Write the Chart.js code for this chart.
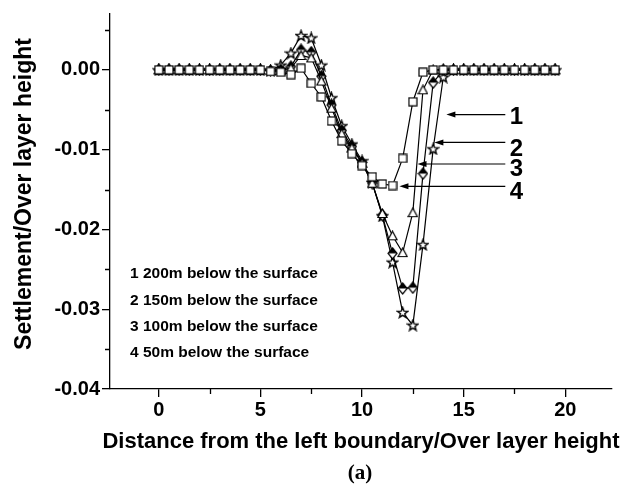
<!DOCTYPE html>
<html><head><meta charset="utf-8">
<script src="https://cdn.jsdelivr.net/npm/chart.js@4.4.0/dist/chart.umd.min.js"></script>
<style>html,body{margin:0;padding:0;background:#fff}</style>
</head><body>
<canvas id="c" width="632" height="494"></canvas>
<script>
// ---- data ----
const xValues = [0,0.5,1,1.5,2,2.5,3,3.5,4,4.5,5,5.5,6,6.5,7,7.5,8,8.5,9,9.5,10,10.5,11,11.5,12,12.5,13,13.5,14,14.5,15,15.5,16,16.5,17,17.5,18,18.5,19,19.5];
const s200 = [0,0,0,0,0,0,0,0,0,0,0,-0.0001,0.0006,0.0021,0.0043,0.0040,0.0006,-0.0035,-0.0070,-0.0093,-0.0114,-0.0141,-0.0183,-0.0241,-0.0304,-0.0320,-0.0219,-0.0099,-0.0009,0,0,0,0,0,0,0,0,0,0,0];
const s150 = [0,0,0,0,0,0,0,0,0,0,0,-0.0001,0.0000,0.0004,0.0025,0.0022,-0.0008,-0.0044,-0.0076,-0.0096,-0.0116,-0.0142,-0.0182,-0.0230,-0.0274,-0.0273,-0.0130,-0.0016,0,0,0,0,0,0,0,0,0,0,0,0];
const s100 = [0,0,0,0,0,0,0,0,0,0,0,-0.0001,-0.0001,0.0002,0.0018,0.0015,-0.0014,-0.0048,-0.0080,-0.0098,-0.0117,-0.0142,-0.0180,-0.0208,-0.0229,-0.0179,-0.0025,0,0,0,0,0,0,0,0,0,0,0,0,0];
const s50  = [0,0,0,0,0,0,0,0,0,0,0,-0.0002,-0.0003,-0.0006,0.0002,-0.0017,-0.0034,-0.0064,-0.0089,-0.0105,-0.0120,-0.0134,-0.0143,-0.0145,-0.0111,-0.0040,-0.0003,0,0,0,0,0,0,0,0,0,0,0,0,0];
const xTickLabels = ['0','5','10','15','20'];
const legendLines = ['1 200m below the surface','2 150m below the surface','3 100m below the surface','4 50m below the surface'];
const curveLabels = ['1','2','3','4'];
const xTitle = 'Distance from the left boundary/Over layer height';
const yTitle = 'Settlement/Over layer height';
const subCaption = '(a)';

// ---- markers ----
function mk(w,h,fn){const c=document.createElement('canvas');c.width=w;c.height=h;const g=c.getContext('2d');g.lineWidth=1.2;g.strokeStyle='#000';g.lineJoin='miter';fn(g);return c;}
const mSquare = mk(10,10,g=>{g.fillStyle='#fff';g.fillRect(1,1,8,8);g.strokeRect(1,1,8,8);});
const mTri = mk(11,11,g=>{g.beginPath();g.moveTo(5.5,1);g.lineTo(10,9.5);g.lineTo(1,9.5);g.closePath();g.fillStyle='#fff';g.fill();g.stroke();});
const mDia = mk(11,13,g=>{g.beginPath();g.moveTo(5.5,1);g.lineTo(10,6.5);g.lineTo(5.5,12);g.lineTo(1,6.5);g.closePath();g.fillStyle='#fff';g.fill();
  g.beginPath();g.moveTo(5.5,1);g.lineTo(10,6.5);g.lineTo(1,6.5);g.closePath();g.fillStyle='#000';g.fill();
  g.beginPath();g.moveTo(5.5,1);g.lineTo(10,6.5);g.lineTo(5.5,12);g.lineTo(1,6.5);g.closePath();g.stroke();});
const mStar = mk(13,13,g=>{g.lineWidth=1.4;g.beginPath();for(let k=0;k<10;k++){const a=-Math.PI/2+k*Math.PI/5;const r=k%2?2.3:5.5;const px=6.5+r*Math.cos(a),py=7+r*Math.sin(a);k?g.lineTo(px,py):g.moveTo(px,py);}g.closePath();g.fillStyle='#fff';g.fill();g.stroke();});

function pts(arr){return xValues.map((x,i)=>({x:x,y:arr[i]}));}
function ds(arr,style){return {data:pts(arr),borderColor:'#000',borderWidth:1.2,pointStyle:style,pointRadius:4,tension:0,showLine:true,fill:false};}

const FONT = "'Liberation Sans', Arial, sans-serif";

const overlay = {
  id:'overlay',
  afterDraw(chart){
    const ctx=chart.ctx, xs=chart.scales.x, ys=chart.scales.y;
    ctx.save();
    ctx.strokeStyle='#000';ctx.fillStyle='#000';ctx.lineWidth=1.3;
    // minor ticks
    ctx.beginPath();
    for(let v=-0.035;v<0.006;v+=0.01){const py=Math.round(ys.getPixelForValue(v))+0.5;ctx.moveTo(xs.left-5,py);ctx.lineTo(xs.left,py);}
    for(let v=-2.5;v<22.4;v+=5){if(v<xs.min)continue;const px=Math.round(xs.getPixelForValue(v))+0.5;ctx.moveTo(px,ys.bottom);ctx.lineTo(px,ys.bottom+5);}
    ctx.stroke();
    // arrows to curves
    const arrows=[{tx:14.15,ty:-0.0056,ly:-0.0058},{tx:13.56,ty:-0.0091,ly:-0.0098},{tx:12.73,ty:-0.0118,ly:-0.0124},{tx:11.84,ty:-0.0146,ly:-0.01525}];
    ctx.lineWidth=1.2;
    arrows.forEach((a,i)=>{
      const x1=xs.getPixelForValue(a.tx), y=ys.getPixelForValue(a.ty), x2=xs.getPixelForValue(17.05);
      ctx.beginPath();ctx.moveTo(x1+6,y);ctx.lineTo(x2,y);ctx.stroke();
      ctx.beginPath();ctx.moveTo(x1,y);ctx.lineTo(x1+9,y-3);ctx.lineTo(x1+9,y+3);ctx.closePath();ctx.fill();
      ctx.font='bold 24px '+FONT;ctx.textAlign='center';ctx.textBaseline='middle';
      ctx.fillText(curveLabels[i],xs.getPixelForValue(17.6),ys.getPixelForValue(a.ly)+1);
    });
    // legend text
    ctx.font='bold 15.5px '+FONT;ctx.textAlign='left';ctx.textBaseline='middle';
    legendLines.forEach((t,i)=>ctx.fillText(t,130,274+i*26.3));
    // axis titles
    ctx.font='bold 22px '+FONT;ctx.textAlign='center';
    ctx.fillText(xTitle,361,442);
    ctx.font='bold 23px '+FONT;
    ctx.save();ctx.translate(25,194);ctx.rotate(-Math.PI/2);ctx.fillText(yTitle,0,0);ctx.restore();
    ctx.font="bold 21px 'Liberation Serif', 'Times New Roman', serif";
    ctx.fillText(subCaption,360,474);
    ctx.restore();
  }
};

new Chart(document.getElementById('c'),{
  type:'scatter',
  data:{datasets:[ds(s50,mSquare),ds(s100,mTri),ds(s150,mDia),ds(s200,mStar)]},
  options:{
    responsive:false,animation:false,devicePixelRatio:1,
    layout:{padding:{top:13,right:20,left:0,bottom:0}},
    plugins:{legend:{display:false},tooltip:{enabled:false}},
    scales:{
      x:{type:'linear',min:-2.4,max:22.3,
        ticks:{stepSize:5,includeBounds:false,autoSkip:false,maxRotation:0,padding:1,color:'#000',font:{family:FONT,size:20,weight:'bold'},
          callback:(v)=>{const i=Math.round(v/5);return (Math.abs(v-i*5)<1e-6&&i>=0&&i<xTickLabels.length)?xTickLabels[i]:'';}},
        grid:{drawOnChartArea:false,drawTicks:true,tickLength:8,color:'#000',lineWidth:1.3},
        border:{display:true,color:'#000',width:1.3},
        afterFit:(s)=>{s.height=105;}
      },
      y:{type:'linear',min:-0.04,max:0.007,
        ticks:{stepSize:0.01,includeBounds:false,autoSkip:false,padding:2,color:'#000',font:{family:FONT,size:20,weight:'bold'},
          callback:(v)=>{const r=Math.round(v*100)/100;return (Math.abs(r)<1e-9?0:r).toFixed(2);}},
        grid:{drawOnChartArea:false,drawTicks:true,tickLength:8,color:'#000',lineWidth:1.3},
        border:{display:true,color:'#000',width:1.3},
        afterFit:(s)=>{s.width=110;}
      }
    }
  },
  plugins:[overlay]
});
</script>
</body></html>
